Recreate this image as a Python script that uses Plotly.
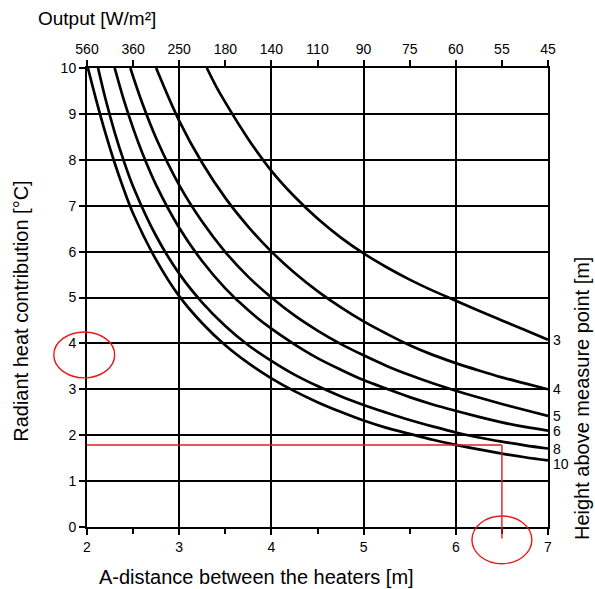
import plotly.graph_objects as go

# ---- data ----
output_ticks_x = [2.0, 2.5, 3.0, 3.5, 4.0, 4.5, 5.0, 5.5, 6.0, 6.5, 7.0]
output_labels = ["560", "360", "250", "180", "140", "110", "90", "75", "60", "55", "45"]

heights = ["3", "4", "5", "6", "8", "10"]

h3_x = [3.30, 3.40, 3.50, 3.75, 4.00, 4.25, 4.50, 4.75, 5.00, 5.25, 5.50, 5.75, 6.00, 6.25, 6.50, 6.75, 7.00]
h3_y = [10.0, 9.60, 9.25, 8.45, 7.76, 7.20, 6.72, 6.31, 5.96, 5.66, 5.39, 5.15, 4.93, 4.71, 4.50, 4.29, 4.08]

h4_x = [2.75, 3.00, 3.25, 3.50, 3.75, 4.00, 4.25, 4.50, 4.75, 5.00, 5.25, 5.50, 5.75, 6.00, 6.25, 6.50, 6.75, 7.00]
h4_y = [10.0, 8.85, 7.93, 7.17, 6.54, 6.00, 5.54, 5.14, 4.79, 4.48, 4.21, 3.96, 3.75, 3.57, 3.41, 3.26, 3.13, 3.00]

h5_x = [2.47, 2.60, 2.75, 3.00, 3.25, 3.50, 3.75, 4.00, 4.25, 4.50, 4.75, 5.00, 5.25, 5.50, 5.75, 6.00, 6.25, 6.50, 6.75, 7.00]
h5_y = [10.0, 9.23, 8.47, 7.45, 6.65, 5.99, 5.45, 5.00, 4.61, 4.28, 3.99, 3.74, 3.51, 3.31, 3.13, 2.97, 2.82, 2.68, 2.55, 2.42]

h6_x = [2.30, 2.40, 2.50, 2.60, 2.75, 3.00, 3.25, 3.50, 3.75, 4.00, 4.25, 4.50, 4.75, 5.00, 5.25, 5.50, 5.75, 6.00, 6.25, 6.50, 6.75, 7.00]
h6_y = [10.0, 9.30, 8.69, 8.15, 7.45, 6.52, 5.79, 5.20, 4.72, 4.32, 3.98, 3.68, 3.43, 3.20, 3.01, 2.83, 2.67, 2.53, 2.40, 2.28, 2.18, 2.10]

h8_x = [2.12, 2.20, 2.30, 2.40, 2.50, 2.75, 3.00, 3.25, 3.50, 3.75, 4.00, 4.25, 4.50, 4.75, 5.00, 5.25, 5.50, 5.75, 6.00, 6.25, 6.50, 6.75, 7.00]
h8_y = [10.0, 9.33, 8.60, 7.97, 7.42, 6.34, 5.52, 4.89, 4.38, 3.96, 3.62, 3.32, 3.07, 2.85, 2.66, 2.49, 2.33, 2.19, 2.06, 1.95, 1.86, 1.78, 1.71]

h10_x = [2.01, 2.10, 2.20, 2.30, 2.40, 2.50, 2.75, 3.00, 3.25, 3.50, 3.75, 4.00, 4.25, 4.50, 4.75, 5.00, 5.25, 5.50, 5.75, 6.00, 6.25, 6.50, 6.75, 7.00]
h10_y = [10.0, 9.30, 8.58, 7.93, 7.35, 6.83, 5.82, 5.03, 4.44, 3.96, 3.57, 3.24, 2.96, 2.72, 2.51, 2.32, 2.16, 2.03, 1.90, 1.79, 1.69, 1.60, 1.52, 1.45]

curves_x = [h3_x, h4_x, h5_x, h6_x, h8_x, h10_x]
curves_y = [h3_y, h4_y, h5_y, h6_y, h8_y, h10_y]

# reading example (red construction)
example_distance = 6.5
example_heat = 1.785

FONT = "Liberation Sans, Arial, sans-serif"
RED = "#e8191c"

fig = go.Figure()

for name, xs, ys in zip(heights, curves_x, curves_y):
    fig.add_trace(go.Scatter(
        x=xs, y=ys, mode="lines", name=name,
        line=dict(color="black", width=2.7, shape="spline", smoothing=1.0),
        showlegend=False, hoverinfo="skip"))

# dummy trace so the top (output) axis is drawn
fig.add_trace(go.Scatter(x=[output_ticks_x[0], output_ticks_x[-1]], y=[None, None],
                         xaxis="x2", mode="lines", showlegend=False, hoverinfo="skip"))

# red construction lines
fig.add_shape(type="line", xref="x", yref="y", x0=2, x1=example_distance,
              y0=example_heat, y1=example_heat, line=dict(color=RED, width=1.4))
fig.add_shape(type="line", xref="paper", yref="paper", x0=(example_distance - 2) / 5,
              x1=(example_distance - 2) / 5, y0=example_heat / 10, y1=-0.025,
              line=dict(color=RED, width=1.4))
# red ellipses
fig.add_shape(type="circle", xref="paper", yref="paper", x0=-0.072, x1=0.060,
              y0=0.325, y1=0.425, line=dict(color=RED, width=1.4))
fig.add_shape(type="circle", xref="paper", yref="paper", x0=0.835, x1=0.965,
              y0=-0.080, y1=0.024, line=dict(color=RED, width=1.4))

# right-hand height labels at the curve ends
for name, ys in zip(heights, curves_y):
    fig.add_annotation(x=1, xref="paper", y=ys[-1], yref="y", text=name,
                       showarrow=False, xanchor="left", yanchor="middle",
                       xshift=3, yshift=(-4 if name == "10" else 0),
                       font=dict(family=FONT, size=14, color="black"))

# titles
fig.add_annotation(x=0.022, xref="paper", y=1.107, yref="paper",
                   text="Output [W/m²]", showarrow=False, xanchor="center", yanchor="middle",
                   font=dict(family=FONT, size=19, color="black"))
fig.add_annotation(x=0.367, xref="paper", y=-0.11, yref="paper",
                   text="A-distance between the heaters [m]", showarrow=False,
                   xanchor="center", yanchor="middle",
                   font=dict(family=FONT, size=20, color="black"))
fig.add_annotation(x=-0.142, xref="paper", y=0.47, yref="paper",
                   text="Radiant heat contribution [°C]", showarrow=False, textangle=-90,
                   xanchor="center", yanchor="middle",
                   font=dict(family=FONT, size=20, color="black"))
fig.add_annotation(x=1.075, xref="paper", y=0.28, yref="paper",
                   text="Height above measure point [m]", showarrow=False, textangle=-90,
                   xanchor="center", yanchor="middle",
                   font=dict(family=FONT, size=20, color="black"))

fig.update_layout(
    width=595, height=589,
    margin=dict(l=87, r=47, t=68, b=62, autoexpand=False),
    paper_bgcolor="white", plot_bgcolor="white",
    font=dict(family=FONT, size=14, color="black"),
    xaxis=dict(range=[2, 7], tick0=2, dtick=1, showgrid=True, gridcolor="black", gridwidth=2,
               showline=True, linecolor="black", linewidth=2, mirror=False,
               ticks="outside", ticklen=6, tickwidth=2, tickcolor="black",
               minor=dict(dtick=0.5, ticks="outside", ticklen=5, tickwidth=2,
                          tickcolor="black", showgrid=False),
               zeroline=False, tickfont=dict(family=FONT, size=14), fixedrange=True),
    xaxis2=dict(range=[2, 7], overlaying="x", side="top", anchor="y",
                tickmode="array", tickvals=output_ticks_x, ticktext=output_labels,
                showgrid=False, showline=True, linecolor="black", linewidth=2,
                ticks="outside", ticklen=6, tickwidth=2, tickcolor="black",
                zeroline=False, tickfont=dict(family=FONT, size=14)),
    yaxis=dict(range=[0, 10], tick0=0, dtick=1, showgrid=True, gridcolor="black", gridwidth=1.5,
               showline=True, linecolor="black", linewidth=2, mirror=True,
               ticks="outside", ticklen=6, tickwidth=1.5, tickcolor="black",
               zeroline=False, tickfont=dict(family=FONT, size=14), fixedrange=True),
)

fig.write_html("out.html")
